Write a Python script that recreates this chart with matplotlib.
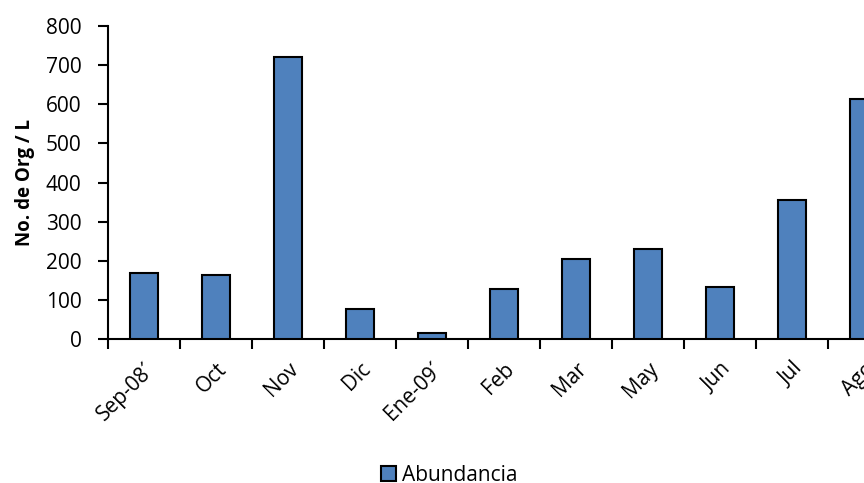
import matplotlib.pyplot as plt
import numpy as np

meses = ['Sep-08´', 'Oct', 'Nov', 'Dic', 'Ene-09´', 'Feb', 'Mar', 'May', 'Jun', 'Jul', 'Ago']
abundancia = [169, 164, 721, 76, 15, 127, 205, 229, 134, 355, 614]

plt.rcParams['font.family'] = ['Open Sans', 'DejaVu Sans']

fig = plt.figure(figsize=(8.64, 4.83), dpi=100)
ax = fig.add_axes([0.125, 0.298, 0.875, 0.648])

x = np.arange(len(meses))
ax.bar(x, abundancia, width=0.4, color='#4F81BD', edgecolor='black',
       linewidth=1.5, label='Abundancia', zorder=3)

ax.set_xlim(-0.5, 10.0)
ax.set_ylim(0, 800)
ax.set_yticks(range(0, 801, 100))
ax.tick_params(axis='y', labelsize=15, direction='out', length=7, width=1.5,
               colors='black', pad=12)

ax.set_xticks(x)
ax.set_xticklabels(meses, rotation=45, ha='right', rotation_mode='anchor', fontsize=15)
ax.tick_params(axis='x', which='major', length=0, pad=14)
ax.set_xticks(np.arange(-0.5, 10.0, 1.0), minor=True)
ax.tick_params(axis='x', which='minor', length=7, width=1.5, direction='out')

for s in ['top', 'right']:
    ax.spines[s].set_visible(False)
for s in ['left', 'bottom']:
    ax.spines[s].set_linewidth(1.5)

ax.set_ylabel('No. de Org / L', fontsize=13.5, fontweight='bold', labelpad=8)

fig.legend(loc='lower center', bbox_to_anchor=(0.52, -0.045), frameon=False,
           fontsize=15, handlelength=0.75, handleheight=0.75, handletextpad=0.3)

fig.savefig('out.png', dpi=100)
